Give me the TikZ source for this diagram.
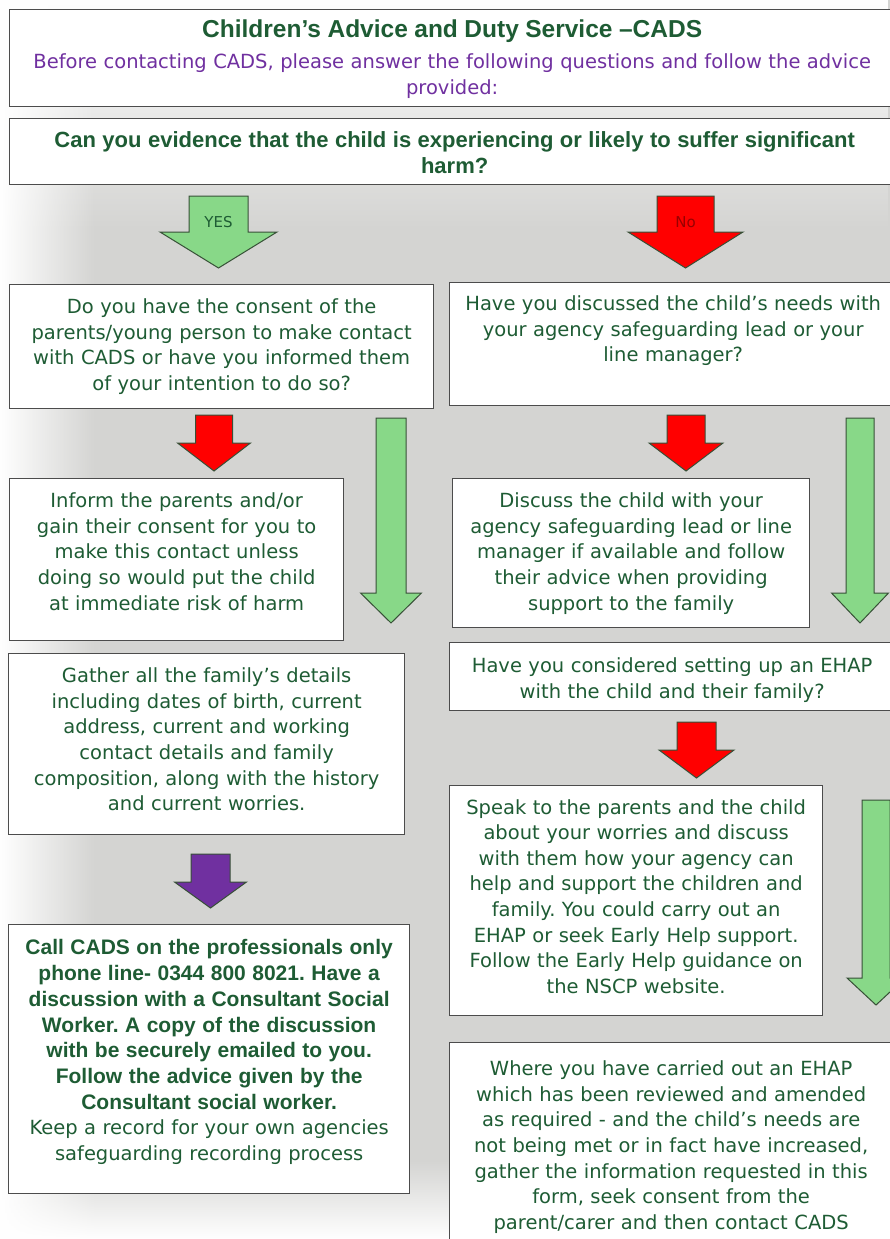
\documentclass[tikz,border=0pt]{standalone}
\usepackage{fontspec}
\setmainfont{DejaVu Sans}
\newfontfamily\boldfont{Liberation Sans}
\usepackage{xcolor}
\usepackage{tikz}
\usetikzlibrary{positioning,calc,fadings}

\definecolor{cadsgreen}{RGB}{30,92,52}
\definecolor{cadspurple}{RGB}{112,48,160}
\definecolor{arrowgreen}{RGB}{136,216,136}
\definecolor{arrowred}{RGB}{255,0,0}
\definecolor{arrowpurple}{RGB}{112,48,160}
\definecolor{arrowline}{RGB}{55,80,55}
\definecolor{bggray}{RGB}{212,212,210}

% fill, centre x, top y, tip y, half shaft, half head, head length
\newcommand{\bigdown}[7]{%
  \draw[blockarrow, fill=#1] (#2-#5,#3) -- (#2+#5,#3) -- (#2+#5,#4-#7) -- (#2+#6,#4-#7)
    -- (#2,#4) -- (#2-#6,#4-#7) -- (#2-#5,#4-#7) -- cycle;}

\frenchspacing
\begin{document}
\begin{tikzpicture}[
  x=1pt, y=-1pt,
  box/.style={rectangle, draw=black!70, line width=1.3pt, fill=white, anchor=north west,
    inner sep=0pt, align=center, text=cadsgreen, font=\fontsize{19.5}{25.6}\selectfont},
  blockarrow/.style={draw=arrowline, line width=1pt, line join=miter},
  tag/.style={font=\fontsize{15}{15}\selectfont}
]
\clip (0,0) rectangle (890,1239);

% Background
\fill[bggray] (0,0) rectangle (890,1239);
\fill[white, path fading=south] (0,0) rectangle (890,230);
\fill[white, path fading=east] (0,0) rectangle (95,1239);
\fill[white, path fading=north] (0,1160) rectangle (470,1239);

% Heading
\node[box, text width=885, text height=28, text depth=69] (head) at (9,9)
  {{\boldfont\bfseries\fontsize{24.5}{30}\selectfont Children’s Advice and Duty Service –CADS}\\[5.5pt]
   {\color{cadspurple}Before contacting CADS, please answer the following questions and follow the advice\\ provided:}};

% Main question
\node[box, text width=890, text height=29, text depth=37] (question) at (9,118)
  {{\boldfont\bfseries\fontsize{22}{25}\selectfont Can you evidence that the child is experiencing or likely to suffer significant\\ harm?}};

% Left column
\node[box, text width=424, text height=29, text depth=95] (consent) at (9,284)
  {Do you have the consent of the\\ parents/young person to make contact\\ with CADS or have you informed them\\ of your intention to do so?};
\node[box, text width=334, text height=29, text depth=133] (inform) at (9,478)
  {Inform the parents and/or\\ gain their consent for you to\\ make this contact unless\\ doing so would put the child\\ at immediate risk of harm};
\node[box, text width=396, text height=29, text depth=152] (gather) at (8,653)
  {Gather all the family’s details\\ including dates of birth, current\\ address, current and working\\ contact details and family\\ composition, along with the history\\ and current worries.};
\node[box, text width=401, text height=30, text depth=239] (call) at (8,924)
  {{\boldfont\bfseries\fontsize{21}{25.8}\selectfont Call CADS on the professionals only\\ phone line- 0344 800 8021. Have a\\ discussion with a Consultant Social\\ Worker. A copy of the discussion\\ with be securely emailed to you.\\ Follow the advice given by the\\ Consultant social worker.}\\
   Keep a record for your own agencies\\ safeguarding recording process};

% Right column
\node[box, text width=447, text height=28, text depth=95] (discussed) at (449,282)
  {Have you discussed the child's needs with\\ your agency safeguarding lead or your\\ line manager?};
\node[box, text width=357, text height=29, text depth=120] (discuss) at (452,478)
  {Discuss the child with your\\ agency safeguarding lead or line\\ manager if available and follow\\ their advice when providing\\ support to the family};
\node[box, text width=445, text height=30, text depth=38] (ehap) at (449,642)
  {Have you considered setting up an EHAP\\ with the child and their family?};
\node[box, text width=373, text height=28.5, text depth=201.5] (speak) at (449,785)
  {Speak to the parents and the child\\ about your worries and discuss\\ with them how your agency can\\ help and support the children and\\ family. You could carry out an\\ EHAP or seek Early Help support.\\ Follow the Early Help guidance on\\ the NSCP website.};
\node[box, text width=443, text height=33, text depth=185] (carried) at (449,1042)
  {Where you have carried out an EHAP\\ which has been reviewed and amended\\ as required - and the child's needs are\\ not being met or in fact have increased,\\ gather the information requested in this\\ form, seek consent from the\\ parent/carer and then contact CADS};

% Arrows
\bigdown{arrowgreen}{218.5}{196}{268}{29.5}{58.5}{36}
\bigdown{arrowred}{685.5}{196}{268}{28.5}{57.5}{36}
\node[tag, text=cadsgreen] (yes) at (218.5,222) {YES};
\node[tag, text=red!60!black] (no) at (685.5,222) {No};

\bigdown{arrowred}{214}{415}{471}{18.5}{36.5}{28}
\bigdown{arrowgreen}{391}{418}{623}{15}{30.5}{30}
\bigdown{arrowred}{686}{415}{471}{19}{37}{28}
\bigdown{arrowgreen}{860}{418}{623}{14}{28.5}{30}
\bigdown{arrowred}{696.5}{722}{778}{19.5}{37.5}{28}
\bigdown{arrowpurple}{210.5}{854}{908}{19.5}{36}{26}
\bigdown{arrowgreen}{876}{800}{1005}{14}{29}{27}

\end{tikzpicture}
\end{document}
